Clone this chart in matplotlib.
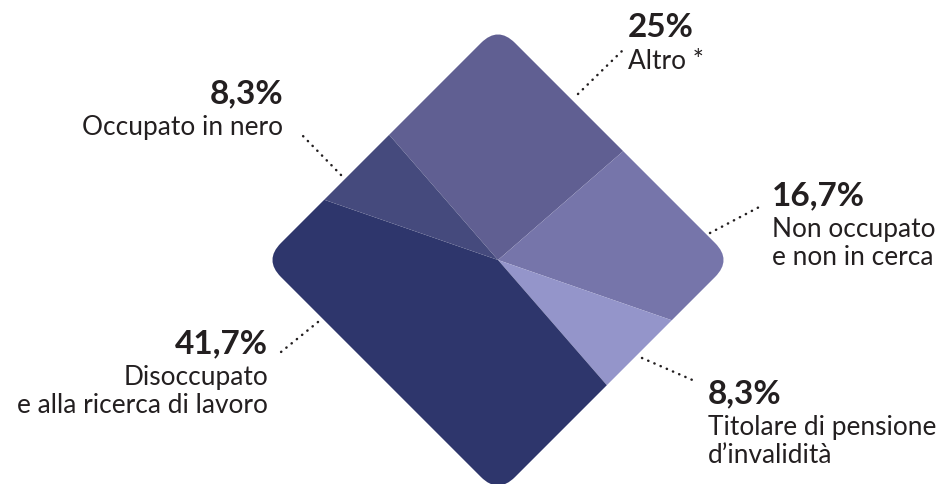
import matplotlib.pyplot as plt
from matplotlib.patches import FancyBboxPatch
from matplotlib.transforms import Affine2D

plt.rcParams['font.family'] = ['Lato', 'DejaVu Sans']

# slices, clockwise from the top-left edge
labels = ['Altro *', 'Non occupato\ne non in cerca', 'Titolare di pensione\nd\u2019invalidit\u00e0',
          'Disoccupato\ne alla ricerca di lavoro', 'Occupato in nero']
pct_labels = ['25%', '16,7%', '8,3%', '41,7%', '8,3%']
values = [25, 16.7, 8.3, 41.7, 8.3]
colors = ['#605f92', '#7675aa', '#9495ca', '#2e366c', '#454a7d']

W, H = 943, 484
CX, CY = 498, H - 260   # centre of the diamond (y up)
SIDE = 331
RND = 24
TXT = '#231f20'

fig = plt.figure(figsize=(9.43, 4.84), dpi=100)
ax = fig.add_axes([0, 0, 1, 1])

wedges, _ = ax.pie(values, colors=colors, startangle=131, counterclock=False,
                   center=(CX, CY), radius=400, wedgeprops=dict(linewidth=0))

diamond = FancyBboxPatch((CX - SIDE / 2, CY - SIDE / 2), SIDE, SIDE,
                         boxstyle='round,pad=0,rounding_size=%d' % RND,
                         facecolor='none', edgecolor='none',
                         transform=Affine2D().rotate_deg_around(CX, CY, 45) + ax.transData)
ax.add_patch(diamond)
for w in wedges:
    w.set_clip_on(True)   # pie turns clipping off
    w.set_clip_path(diamond)

ax.set_xlim(0, W)
ax.set_ylim(0, H)
ax.set_aspect('equal')
ax.axis('off')

# label layout: (x, pct baseline, ha, leader start, leader end) in image px
layout = [
    (628, 37, 'left', (578, 94), (622, 51)),
    (772, 205, 'left', (710, 233), (763, 205)),
    (708, 403, 'left', (642, 358), (697, 382)),
    (268, 353, 'right', (318, 322), (281, 352)),
    (283, 103, 'right', (341, 175), (302, 135)),
]

for lab, pct, (x, yb, ha, p0, p1) in zip(labels, pct_labels, layout):
    ax.text(x, H - yb, pct, ha=ha, va='baseline', fontsize=24,
            fontweight='bold', color=TXT)
    for i, line in enumerate(lab.split('\n')):
        ax.text(x, H - (yb + 32 + 28 * i), line, ha=ha, va='baseline',
                fontsize=18.9, color=TXT)
    ax.plot([p0[0], p1[0]], [H - p0[1], H - p1[1]], color=TXT,
            lw=1.8, ls=(0, (0.1, 2.6)), dash_capstyle='round')

fig.savefig('out.png', dpi=100)
